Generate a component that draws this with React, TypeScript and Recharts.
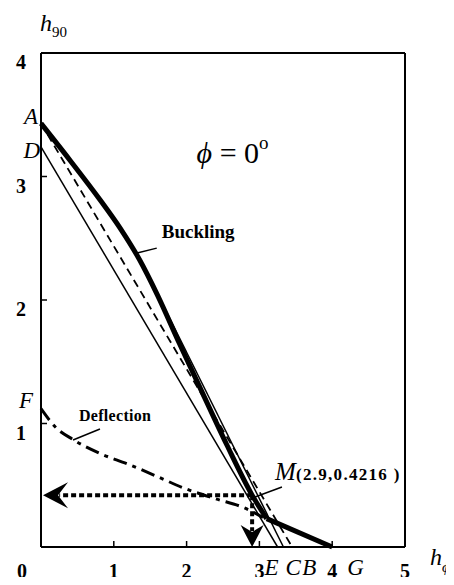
import { ComposedChart, Line, XAxis, YAxis, ReferenceLine, ReferenceDot } from "recharts";

const SERIF = '"Liberation Serif", "Times New Roman", serif';

// thick buckling curve A -> M, then the straight tail to G
const bucklingX = [0, 0.4, 0.8, 1.1, 1.35, 1.6, 1.9, 2.2, 2.55, 2.9, 3.1];
const bucklingY = [3.43, 3.13, 2.82, 2.57, 2.33, 2.04, 1.65, 1.27, 0.83, 0.42, 0.23];
const tailX = [3.1, 4.0];
const tailY = [0.23, 0];

// straight lines D-E, A-B (dashed) and the thin one ending at C
const lineDEx = [0, 3.25];
const lineDEy = [3.24, 0];
const lineABx = [0, 3.45];
const lineABy = [3.43, 0];
const lineCx = [1.5, 3.33];
const lineCy = [2.17, 0];

// deflection curve from F
const deflectionX = [0, 0.2, 0.44, 0.8, 1.2, 1.6, 1.95, 2.4, 2.78, 3.05];
const deflectionY = [1.12, 0.97, 0.87, 0.76, 0.67, 0.57, 0.48, 0.39, 0.32, 0.24];

const pointM = { x: 2.9, y: 0.42 };
const xTicks = [0, 1, 2, 3, 4, 5];
const yTicks = [1, 2, 3, 4];

const pts = (xs: number[], ys: number[]) => xs.map((x, i) => ({ x, y: ys[i] }));

function XTick({ x, y, payload }: any) {
  const v = payload.value;
  return (
    <g>
      {v > 0 && v < 5 && <line x1={x} y1={y} x2={x} y2={y - 6} stroke="#000" strokeWidth={1.5} />}
      <text x={v === 0 ? x - 19 : x} y={y + 31} textAnchor="middle" fontFamily={SERIF} fontWeight="bold" fontSize={20} fill="#000">
        {v}
      </text>
    </g>
  );
}

function YTick({ x, y, payload }: any) {
  const v = payload.value;
  return (
    <g>
      {v < 4 && <line x1={x} y1={y} x2={x + 6} y2={y} stroke="#000" strokeWidth={1.5} />}
      <text x={x - 20} y={y + 16} textAnchor="middle" fontFamily={SERIF} fontWeight="bold" fontSize={20} fill="#000">
        {v}
      </text>
    </g>
  );
}

function Letter({ cx, cy, dx, dy, anchor = "start", children }: any) {
  return (
    <text x={cx + dx} y={cy + dy} textAnchor={anchor} fontFamily={SERIF} fontStyle="italic" fontSize={23} fill="#000">
      {children}
    </text>
  );
}

function LeftArrow({ cx, cy }: any) {
  return <polygon points={`${cx + 2},${cy} ${cx + 27},${cy - 13} ${cx + 17},${cy} ${cx + 27},${cy + 13}`} fill="#000" />;
}

function DownArrow({ cx, cy }: any) {
  return <polygon points={`${cx},${cy} ${cx - 11.5},${cy - 22} ${cx},${cy - 15} ${cx + 11.5},${cy - 22}`} fill="#000" />;
}

export default function App() {
  return (
    <div style={{ margin: -8, width: 454, height: 585, background: "#fff" }}>
      <ComposedChart width={454} height={585} margin={{ top: 53, right: 49, left: 0, bottom: 0 }}>
        <XAxis
          type="number"
          dataKey="x"
          domain={[0, 5]}
          ticks={xTicks}
          height={38}
          tickSize={0}
          tickMargin={0}
          tickLine={false}
          tick={<XTick />}
          axisLine={{ stroke: "#000", strokeWidth: 2 }}
        />
        <YAxis
          type="number"
          domain={[0, 4]}
          ticks={yTicks}
          width={41}
          tickSize={0}
          tickMargin={0}
          tickLine={false}
          tick={<YTick />}
          axisLine={{ stroke: "#000", strokeWidth: 2 }}
        />
        <ReferenceLine y={4} stroke="#000" strokeWidth={2} />
        <ReferenceLine x={5} stroke="#000" strokeWidth={2} />

        <Line data={pts(lineDEx, lineDEy)} dataKey="y" type="linear" stroke="#000" strokeWidth={1.5} dot={false} isAnimationActive={false} />
        <Line data={pts(lineABx, lineABy)} dataKey="y" type="linear" stroke="#000" strokeWidth={1.8} strokeDasharray="8 5" dot={false} isAnimationActive={false} />
        <Line data={pts(lineCx, lineCy)} dataKey="y" type="linear" stroke="#000" strokeWidth={1.5} dot={false} isAnimationActive={false} />
        <Line data={pts(deflectionX, deflectionY)} dataKey="y" type="monotone" stroke="#000" strokeWidth={3} strokeDasharray="14 6 4 6" dot={false} isAnimationActive={false} />
        <Line data={pts(bucklingX, bucklingY)} dataKey="y" type="monotone" stroke="#000" strokeWidth={5} dot={false} isAnimationActive={false} />
        <Line data={pts(tailX, tailY)} dataKey="y" type="linear" stroke="#000" strokeWidth={5} dot={false} isAnimationActive={false} />

        {/* dotted arrows from M to the axes */}
        <Line data={[pointM, { x: 0.25, y: pointM.y }]} dataKey="y" stroke="#000" strokeWidth={4} strokeDasharray="5 3" dot={false} isAnimationActive={false} />
        <Line data={[pointM, { x: pointM.x, y: 0.13 }]} dataKey="y" stroke="#000" strokeWidth={4} strokeDasharray="5 3" dot={false} isAnimationActive={false} />
        <ReferenceDot x={0} y={pointM.y} ifOverflow="visible" shape={(p: any) => <LeftArrow {...p} />} />
        <ReferenceDot x={pointM.x} y={0} ifOverflow="visible" shape={(p: any) => <DownArrow {...p} />} />

        {/* pointer lines */}
        <ReferenceLine segment={[{ x: 1.32, y: 2.38 }, { x: 1.59, y: 2.42 }]} stroke="#000" strokeWidth={1.5} />
        <ReferenceLine segment={[{ x: 0.44, y: 0.866 }, { x: 0.81, y: 0.955 }]} stroke="#000" strokeWidth={1.5} />
        <ReferenceLine segment={[{ x: 2.94, y: 0.405 }, { x: 3.31, y: 0.486 }]} stroke="#000" strokeWidth={1.5} />

        <ReferenceDot x={1.59} y={2.42} ifOverflow="visible" shape={(p: any) => (
          <text x={p.cx + 5} y={p.cy - 10} fontFamily={SERIF} fontWeight="bold" fontSize={19} fill="#000">Buckling</text>
        )} />
        <ReferenceDot x={0.81} y={0.955} ifOverflow="visible" shape={(p: any) => (
          <text x={p.cx - 21} y={p.cy - 8} fontFamily={SERIF} fontWeight="bold" fontSize={16} letterSpacing={0.3} fill="#000">Deflection</text>
        )} />
        <ReferenceDot x={pointM.x} y={pointM.y} ifOverflow="visible" shape={(p: any) => (
          <text x={p.cx + 23} y={p.cy - 15} fontFamily={SERIF} fill="#000">
            <tspan fontStyle="italic" fontSize={25}>M</tspan>
            <tspan fontWeight="bold" fontSize={17} letterSpacing={1.3}>(2.9,0.4216 )</tspan>
          </text>
        )} />

        {/* point letters */}
        <ReferenceDot x={0} y={3.43} ifOverflow="visible" shape={(p: any) => <Letter {...p} dx={-3} dy={1} anchor="end">A</Letter>} />
        <ReferenceDot x={0} y={3.24} ifOverflow="visible" shape={(p: any) => <Letter {...p} dx={-1} dy={11} anchor="end">D</Letter>} />
        <ReferenceDot x={0} y={1.12} ifOverflow="visible" shape={(p: any) => <Letter {...p} dx={-8} dy={-1} anchor="end">F</Letter>} />
        <ReferenceDot x={3.25} y={0} ifOverflow="visible" shape={(p: any) => <Letter {...p} dx={-13} dy={28}>E</Letter>} />
        <ReferenceDot x={3.33} y={0} ifOverflow="visible" shape={(p: any) => <Letter {...p} dx={2} dy={28}>C</Letter>} />
        <ReferenceDot x={3.45} y={0} ifOverflow="visible" shape={(p: any) => <Letter {...p} dx={10} dy={28}>B</Letter>} />
        <ReferenceDot x={4} y={0} ifOverflow="visible" shape={(p: any) => <Letter {...p} dx={15} dy={28}>G</Letter>} />

        {/* titles */}
        <ReferenceDot x={2} y={3.3} ifOverflow="visible" shape={(p: any) => (
          <text x={p.cx + 10} y={p.cy + 24} fontFamily={SERIF} fontSize={30} fill="#000">
            <tspan fontStyle="italic">ϕ</tspan> = 0<tspan fontSize={19} dy={-14}>o</tspan>
          </text>
        )} />
        <ReferenceDot x={0} y={4} ifOverflow="visible" shape={(p: any) => (
          <text x={p.cx - 1} y={p.cy - 22} fontFamily={SERIF} fill="#000">
            <tspan fontStyle="italic" fontSize={24}>h</tspan>
            <tspan fontSize={15} dy={6}>90</tspan>
          </text>
        )} />
        <ReferenceDot x={5} y={0} ifOverflow="visible" shape={(p: any) => (
          <text x={p.cx + 25} y={p.cy + 18} fontFamily={SERIF} fill="#000">
            <tspan fontStyle="italic" fontSize={24}>h</tspan>
            <tspan fontStyle="italic" fontSize={15} dy={7}>ϕ</tspan>
          </text>
        )} />
      </ComposedChart>
    </div>
  );
}
